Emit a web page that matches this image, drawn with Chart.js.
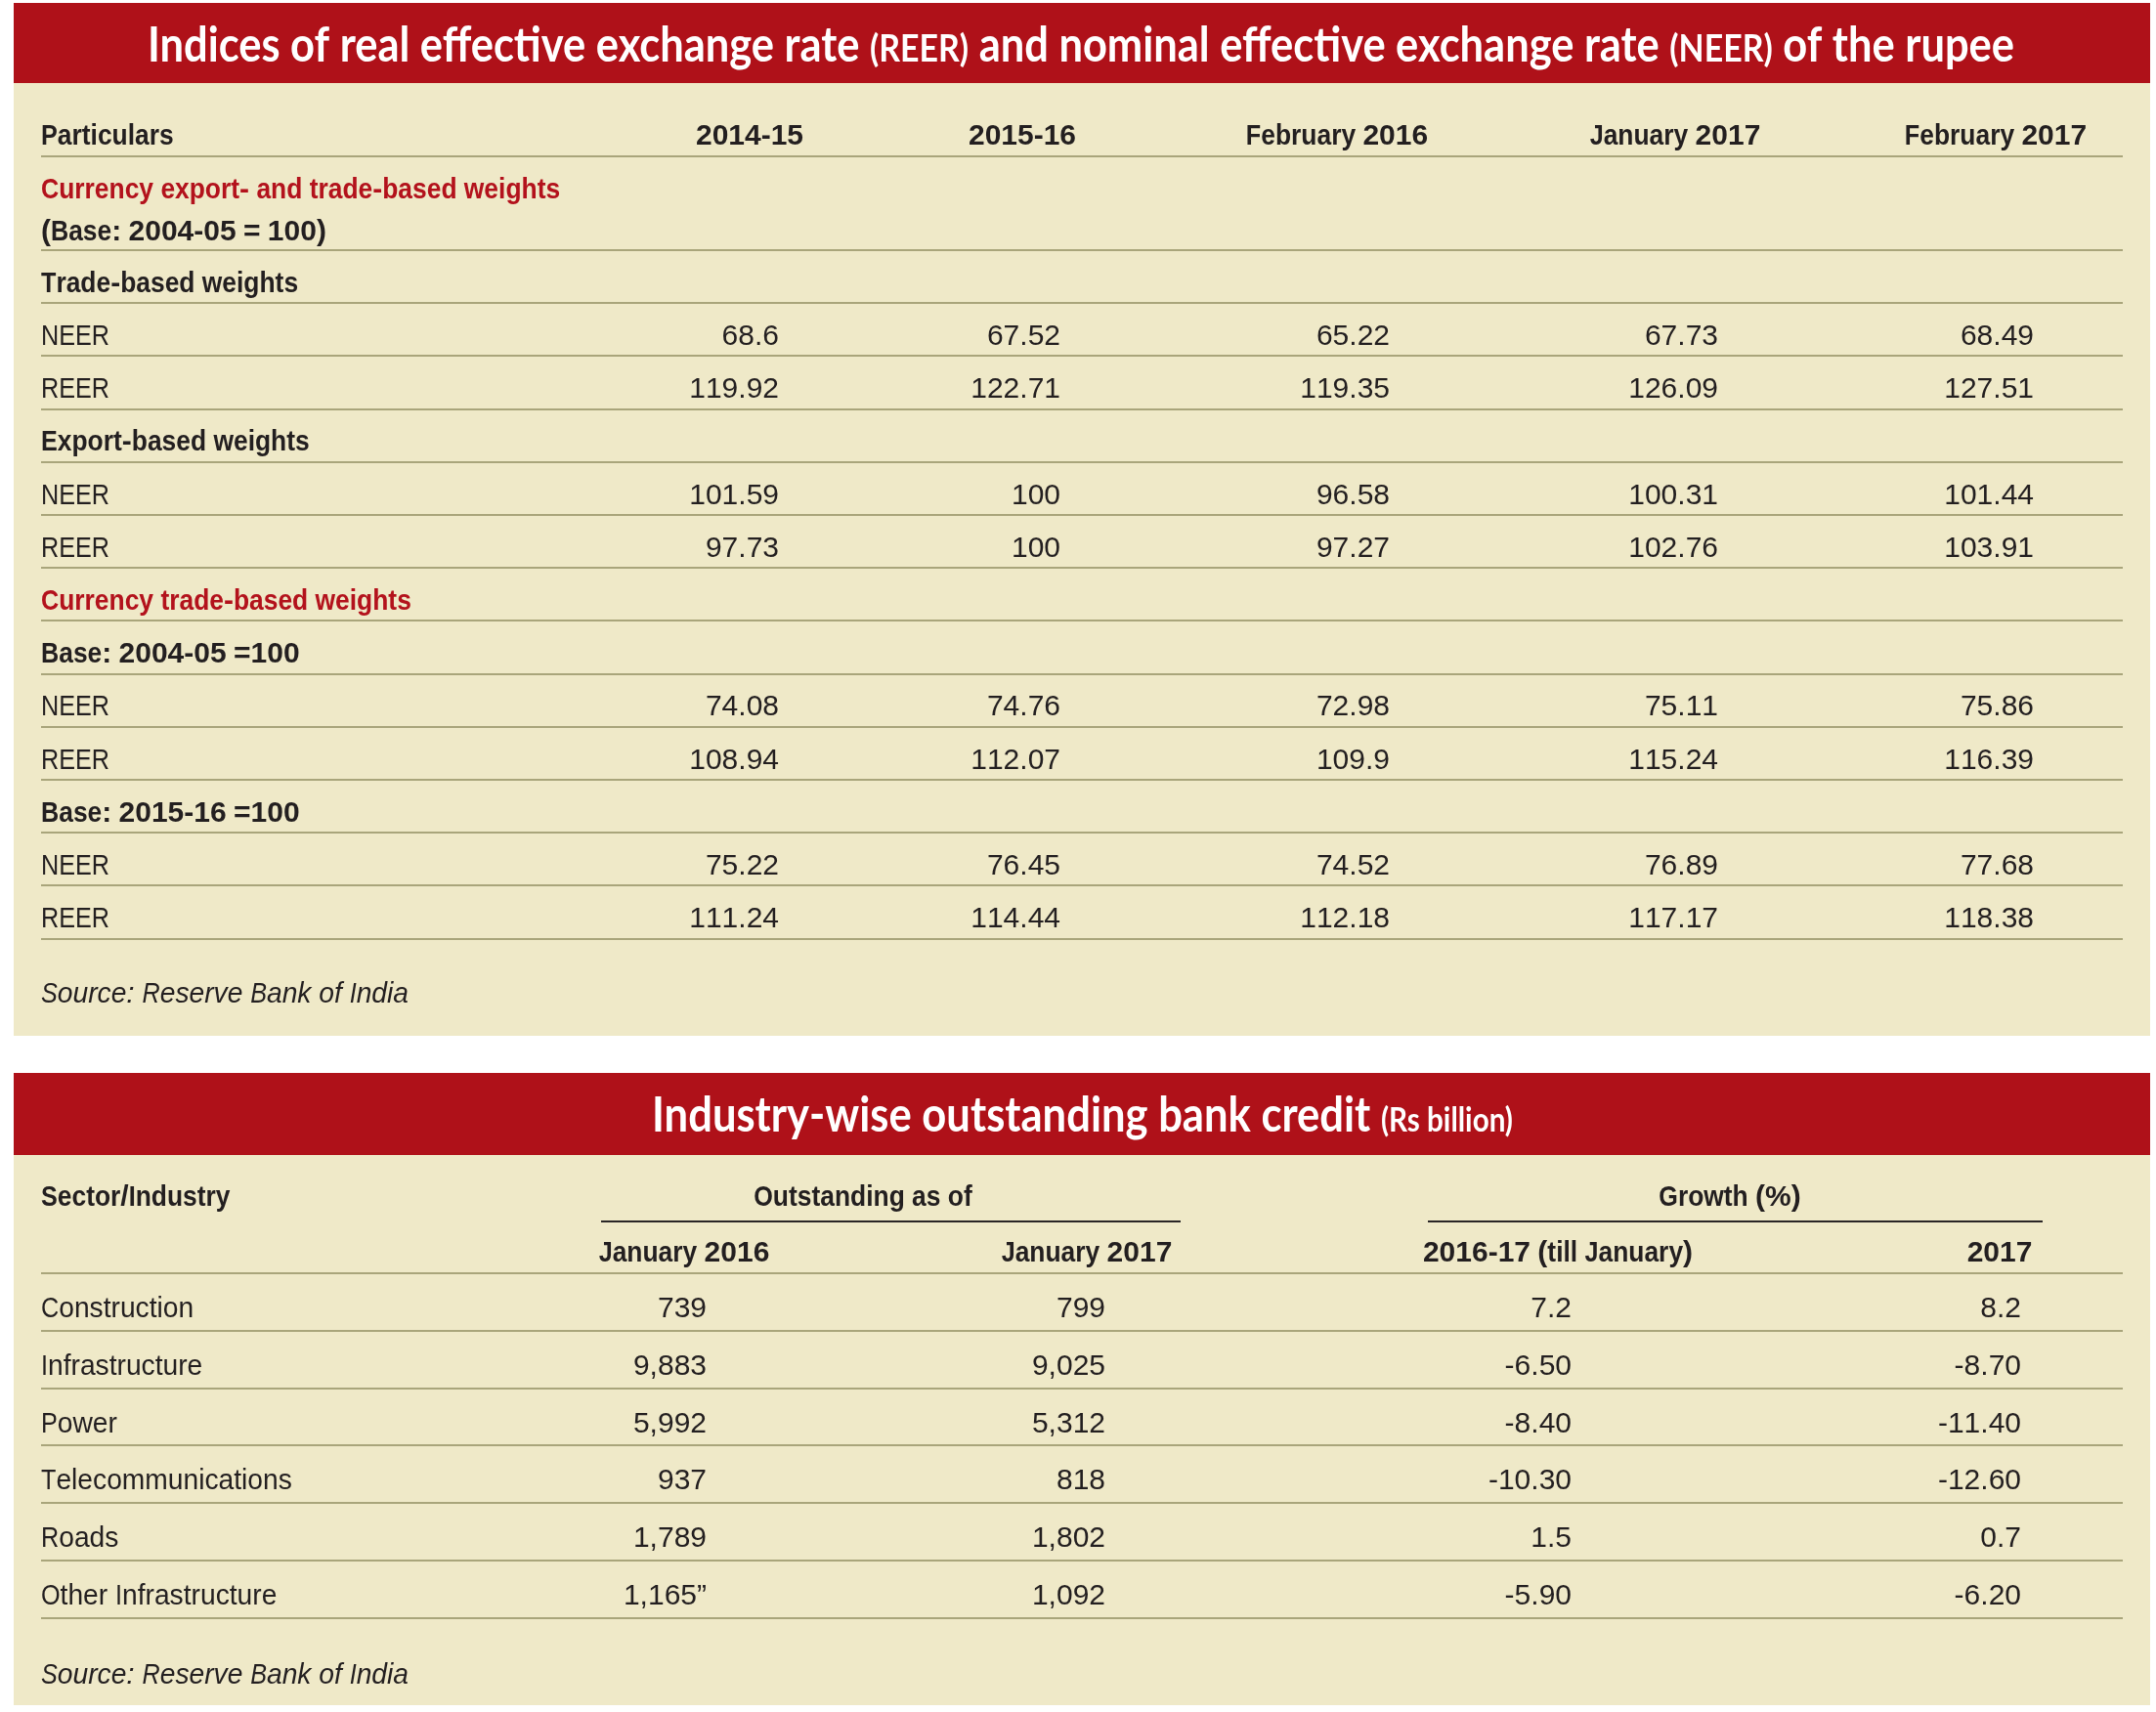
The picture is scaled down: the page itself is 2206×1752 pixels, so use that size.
<!DOCTYPE html>
<html><head><meta charset="utf-8">
<script src="https://cdn.jsdelivr.net/npm/chart.js@4.4.1/dist/chart.umd.min.js"></script>
<style>html,body{margin:0;padding:0;background:#fff;overflow:hidden}canvas{display:block}</style>
</head><body>
<canvas id="c" width="2206" height="1752" style="width:2206px;height:1752px"></canvas>
<script>
// ---------------- DATA ----------------
const t1Title = [["Indices of real effective exchange rate ", 1], ["(REER)", 0.78], [" and nominal effective exchange rate ", 1], ["(NEER)", 0.78], [" of the rupee", 1]];
const t1Corner = "Particulars";
const t1Columns = ["2014-15", "2015-16", "February 2016", "January 2017", "February 2017"];
const t1RowLabels = ["Currency export- and trade-based weights", "(Base: 2004-05 = 100)", "Trade-based weights", "NEER", "REER", "Export-based weights", "NEER", "REER", "Currency trade-based weights", "Base: 2004-05 =100", "NEER", "REER", "Base: 2015-16 =100", "NEER", "REER"];
const t1RowKinds = ["red", "bold", "bold", "plain", "plain", "bold", "plain", "plain", "red", "bold", "plain", "plain", "bold", "plain", "plain"];
const tradeNEER = [68.6, 67.52, 65.22, 67.73, 68.49];
const tradeREER = [119.92, 122.71, 119.35, 126.09, 127.51];
const exportNEER = [101.59, 100, 96.58, 100.31, 101.44];
const exportREER = [97.73, 100, 97.27, 102.76, 103.91];
const base0405NEER = [74.08, 74.76, 72.98, 75.11, 75.86];
const base0405REER = [108.94, 112.07, 109.9, 115.24, 116.39];
const base1516NEER = [75.22, 76.45, 74.52, 76.89, 77.68];
const base1516REER = [111.24, 114.44, 112.18, 117.17, 118.38];
const t1RowValues = [null, null, null, tradeNEER, tradeREER, null, exportNEER, exportREER, null, null, base0405NEER, base0405REER, null, base1516NEER, base1516REER];
const t1Source = "Source: Reserve Bank of India";

const t2Title = [["Industry-wise outstanding bank credit ", 1], ["(Rs billion)", 0.68]];
const t2Corner = "Sector/Industry";
const t2Groups = ["Outstanding as of", "Growth (%)"];
const t2Columns = ["January 2016", "January 2017", "2016-17 (till January)", "2017"];
const t2Sectors = ["Construction", "Infrastructure", "Power", "Telecommunications", "Roads", "Other Infrastructure"];
const t2Jan2016 = [739, 9883, 5992, 937, 1789, 1165];
const t2Jan2016Notes = ["", "", "", "", "", "\u201D"];
const t2Jan2017 = [799, 9025, 5312, 818, 1802, 1092];
const t2Growth1617 = [7.2, -6.5, -8.4, -10.3, 1.5, -5.9];
const t2Growth2017 = [8.2, -8.7, -11.4, -12.6, 0.7, -6.2];
const t2Source = "Source: Reserve Bank of India";

// ---------------- LAYOUT / STYLE ----------------
const W = 2206, H = 1752;
const RED = "#af1119", BEIGE = "#efe9c8", RULE = "#a9a57b", DARK = "#2a2626", INK = "#231f20", REDINK = "#b3121c";
const LEFT = 42, RIGHT = 2172;
const R1 = 54.2, ANCHOR1 = 256;   // table 1 row pitch, pixel of boundary 2.5
const R2 = 58.83, ANCHOR2 = 1303; // table 2 row pitch, pixel of boundary -0.5
const PANELS = [
  { x0: 14, x1: 2200, top: 3, body0: 85, body1: 1060 },
  { x0: 14, x1: 2200, top: 1098, body0: 1182, body1: 1745 }
];
const T1_HEAD_X = [767, 1046, 1368, 1714, 2042];
const T1_VAL_X = [797, 1085, 1422, 1758, 2081];
const T2_GROUP_X = [883, 1770];
const T2_GROUP_LINES = [[615, 1208], [1461, 2090]];
const T2_HEAD_X = [700, 1112, 1594, 2046];
const T2_VAL_X = [723, 1131, 1608, 2068];
const FAM = '"Liberation Sans", Arial, sans-serif';
const STYLES = {
  plain: { family: FAM, weight: 400, size: 30, cap: 0.84, low: 0.94, color: INK },
  bold: { family: FAM, weight: 700, size: 30, cap: 0.84, low: 0.88, color: INK },
  red: { family: FAM, weight: 700, size: 30, cap: 0.84, low: 0.88, color: REDINK },
  italic: { family: FAM, weight: 400, size: 30, cap: 0.84, low: 0.94, color: INK, italic: true },
  title: { family: 'Lato, "Open Sans", sans-serif', weight: 700, size: 50, color: "#ffffff" }
};

function t1Slot(i) { const v = i + 1; return v === 1 ? 1.32 : v === 2 ? 2.11 : v + 0.09; }
function t2Slot(i) { return i + 0.08; }
const fmtNum = v => String(v);
const fmtThousands = v => v.toLocaleString("en-US");
const fmtGrowth = v => v < 0 ? "-" + Math.abs(v).toFixed(2) : String(v);

// ---------------- DATASETS ----------------
const datasets = [];
function addCells(texts, xs, ys, style, align, axis, extra) {
  datasets.push(Object.assign({
    data: texts.map((_, i) => ({ x: xs[i], y: ys[i] })),
    cellText: texts, cellStyle: style, cellAlign: align,
    xAxisID: "x", yAxisID: axis, pointRadius: 0, pointHoverRadius: 0, showLine: false
  }, extra || {}));
}
// Table 1
addCells([t1Title], [1106], [2.5 + (62.7 - ANCHOR1) / R1], "title", "center", "y1", { titleWidth: 1910 });
addCells([t1Corner], [LEFT], [0.304], "bold", "left", "y1");
addCells(t1Columns, T1_HEAD_X, t1Columns.map(() => 0.304), "bold", "center", "y1");
t1RowLabels.forEach((lab, i) => addCells([lab], [LEFT], [t1Slot(i)], t1RowKinds[i], "left", "y1"));
t1Columns.forEach((_, c) => {
  const rows = t1RowValues.map((v, i) => v ? i : -1).filter(i => i >= 0);
  addCells(rows.map(i => fmtNum(t1RowValues[i][c])), rows.map(() => T1_VAL_X[c]), rows.map(t1Slot), "plain", "right", "y1");
});
addCells([t1Source], [LEFT], [16.5], "italic", "left", "y1");
// Table 2
addCells([t2Title], [1107.5], [(1158 - ANCHOR2) / R2 - 0.5], "title", "center", "y2", { titleWidth: 881 });
addCells([t2Corner], [LEFT], [-1.86], "bold", "left", "y2");
addCells(t2Groups, T2_GROUP_X, [-1.86, -1.86], "bold", "center", "y2");
addCells(t2Columns, T2_HEAD_X, t2Columns.map(() => -0.89), "bold", "center", "y2");
addCells(t2Sectors, t2Sectors.map(() => LEFT), t2Sectors.map((_, i) => t2Slot(i)), "plain", "left", "y2");
const t2Series = [
  t2Jan2016.map((v, i) => fmtThousands(v) + t2Jan2016Notes[i]),
  t2Jan2017.map(fmtThousands),
  t2Growth1617.map(fmtGrowth),
  t2Growth2017.map(fmtGrowth)
];
t2Series.forEach((txt, c) => addCells(txt, txt.map(() => T2_VAL_X[c]), txt.map((_, i) => t2Slot(i)), "plain", "right", "y2"));
addCells([t2Source], [LEFT], [6.45], "italic", "left", "y2");

// ---------------- DRAWING ----------------
function charScale(ch, st) {
  if (/[0-9.,\-=()%:\/\u201D"]/.test(ch)) return 1;
  if (/[A-Z]/.test(ch)) return st.cap;
  return st.low;
}
function drawCell(ctx, str, x, y, align, st) {
  ctx.font = `${st.italic ? "italic " : ""}${st.weight} ${st.size}px ${st.family}`;
  const items = [...str].map(ch => { const s = charScale(ch, st); return { ch, s, w: ctx.measureText(ch).width * s }; });
  const total = items.reduce((a, b) => a + b.w, 0);
  let cx = align === "right" ? x - total : align === "center" ? x - total / 2 : x;
  const base = y + st.size * 0.36;
  ctx.fillStyle = st.color; ctx.textAlign = "left"; ctx.textBaseline = "alphabetic";
  items.forEach(it => { ctx.save(); ctx.translate(cx, base); ctx.scale(it.s, 1); ctx.fillText(it.ch, 0, 0); ctx.restore(); cx += it.w; });
}
function drawTitle(ctx, segs, cx, baseline, width, st) {
  let total = 0;
  const m = segs.map(([t, f]) => { ctx.font = `${st.weight} ${st.size * f}px ${st.family}`; const w = ctx.measureText(t).width; total += w; return w; });
  const sx = width / total;
  ctx.save(); ctx.translate(cx - width / 2, baseline); ctx.scale(sx, 1);
  ctx.fillStyle = st.color; ctx.textAlign = "left"; ctx.textBaseline = "alphabetic";
  let x = 0;
  segs.forEach(([t, f], i) => { ctx.font = `${st.weight} ${st.size * f}px ${st.family}`; ctx.fillText(t, x, 0); x += m[i]; });
  ctx.restore();
}

const tablePlugin = {
  id: "tableCells",
  beforeDraw(chart) {
    const c = chart.ctx; c.save();
    c.fillStyle = "#ffffff"; c.fillRect(0, 0, chart.width, chart.height);
    PANELS.forEach(p => {
      c.fillStyle = BEIGE; c.fillRect(p.x0, p.body0, p.x1 - p.x0, p.body1 - p.body0);
      c.fillStyle = RED; c.fillRect(p.x0, p.top, p.x1 - p.x0, p.body0 - p.top);
    });
    c.restore();
  },
  afterDatasetsDraw(chart) {
    const c = chart.ctx; c.save();
    const xs = chart.scales.x, y2 = chart.scales.y2;
    c.strokeStyle = DARK; c.lineWidth = 2;
    T2_GROUP_LINES.forEach(([a, b]) => {
      const y = Math.round(y2.getPixelForValue((1250 - ANCHOR2) / R2 - 0.5));
      c.beginPath(); c.moveTo(xs.getPixelForValue(a), y); c.lineTo(xs.getPixelForValue(b), y); c.stroke();
    });
    chart.data.datasets.forEach((ds, di) => {
      const meta = chart.getDatasetMeta(di);
      meta.data.forEach((pt, j) => {
        const txt = ds.cellText[j];
        if (ds.cellStyle === "title") drawTitle(c, txt, pt.x, pt.y, ds.titleWidth, STYLES.title);
        else drawCell(c, txt, pt.x, pt.y, ds.cellAlign, STYLES[ds.cellStyle]);
      });
    });
    c.restore();
  }
};

const y1Lines = [0.729].concat(Array.from({ length: 14 }, (_, i) => 2.5 + i));
const y2Lines = Array.from({ length: 7 }, (_, i) => -0.5 + i);
function ruleAxis(min, max, lines) {
  return {
    type: "linear", position: "left", reverse: true, min, max,
    ticks: { display: false }, border: { display: false },
    grid: { drawTicks: false, color: RULE, lineWidth: 2 },
    afterBuildTicks: axis => { axis.ticks = lines.map(v => ({ value: v })); }
  };
}

new Chart(document.getElementById("c").getContext("2d"), {
  type: "scatter",
  data: { datasets },
  options: {
    responsive: false, animation: false, devicePixelRatio: 1,
    layout: { padding: { left: LEFT, right: W - RIGHT, top: 0, bottom: 0 } },
    plugins: { legend: { display: false }, tooltip: { enabled: false } },
    events: [],
    scales: {
      x: { type: "linear", min: LEFT, max: RIGHT, display: false },
      y1: ruleAxis(2.5 - ANCHOR1 / R1, 2.5 + (H - ANCHOR1) / R1, y1Lines),
      y2: ruleAxis(-0.5 - ANCHOR2 / R2, -0.5 + (H - ANCHOR2) / R2, y2Lines)
    }
  },
  plugins: [tablePlugin]
});
</script>
</body></html>
